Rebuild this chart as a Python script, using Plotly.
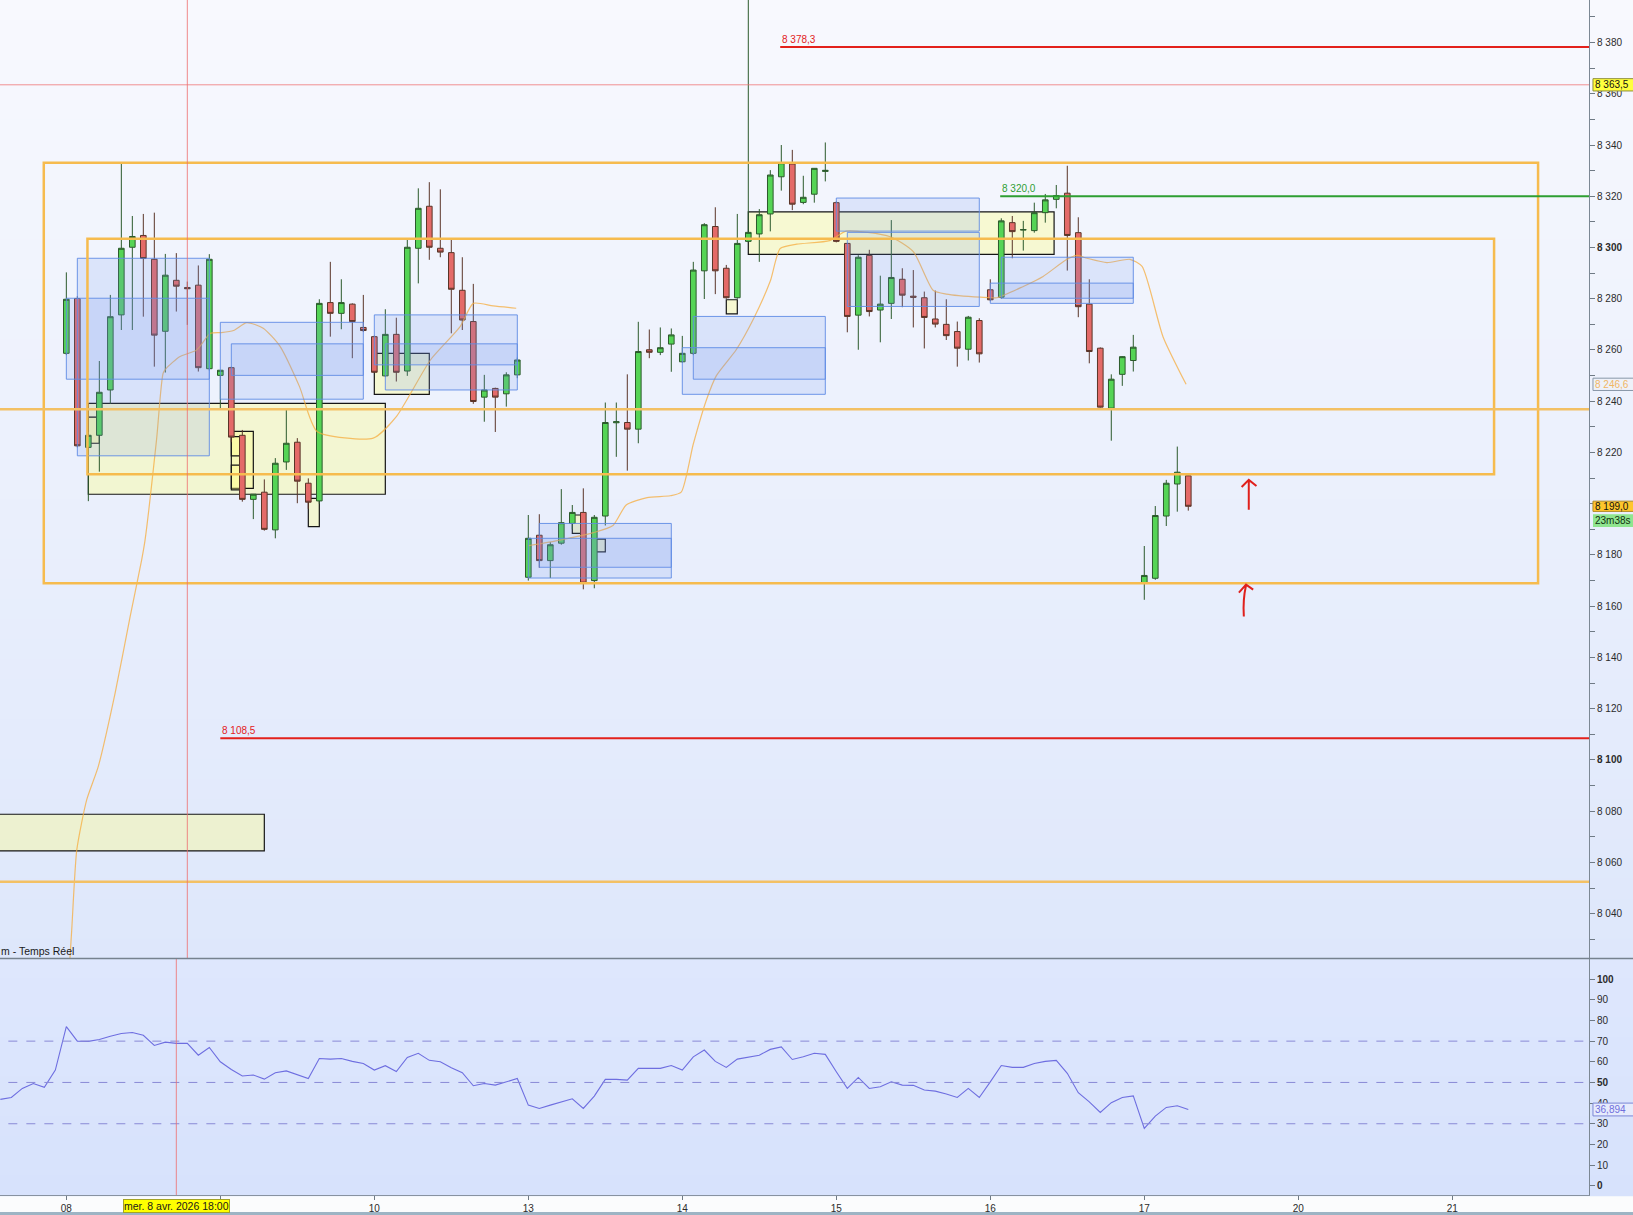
import plotly.graph_objects as go
from plotly.subplots import make_subplots

FONT = "Liberation Sans, Arial, sans-serif"

# bougies 1h : index 0 = mer. 8 avr. 08:00, 14 barres par seance (08h-21h)
bar_idx = list(range(103))
opens = [8258.7, 8280.1, 8222.0, 8226.7, 8244.4, 8273.7, 8300.1, 8304.7, 8295.4, 8267.3, 8287.2, 8284.4, 8285.3, 8252.7,
         8250.1, 8253.1, 8226.7, 8201.7, 8204.5, 8189.8, 8216.3, 8224.0, 8208.0, 8201.1, 8278.5, 8274.3, 8277.9, 8268.8,
         8265.2, 8249.9, 8266.1, 8251.8, 8299.7, 8316.1, 8299.7, 8298.0, 8283.3, 8271.1, 8241.6, 8245.0, 8242.9, 8250.3,
         8171.3, 8187.7, 8177.8, 8184.6, 8192.3, 8196.6, 8170.0, 8195.2, 8231.6, 8231.7, 8229.1, 8260.1, 8259.1, 8262.3,
         8255.4, 8258.7, 8290.9, 8308.2, 8291.9, 8280.4, 8302.4, 8305.3, 8313.1, 8327.6, 8332.6, 8317.6, 8320.8, 8329.7,
         8317.5, 8301.6, 8273.6, 8296.9, 8275.6, 8278.2, 8287.6, 8281.0, 8280.4, 8272.1, 8270.0, 8267.2, 8260.3, 8271.5,
         8283.5, 8280.6, 8309.7, 8306.8, 8306.6, 8313.6, 8318.8, 8321.2, 8305.8, 8277.9, 8260.7, 8237.3, 8250.5, 8255.9,
         8169.0, 8170.9, 8195.2, 8207.7, 8210.9]
highs = [8290.3, 8281.0, 8228.0, 8255.7, 8281.5, 8332.9, 8312.3, 8313.1, 8313.6, 8297.5, 8297.8, 8286.7, 8293.0, 8297.4,
         8252.1, 8253.5, 8228.8, 8203.7, 8209.5, 8217.8, 8237.3, 8225.6, 8209.9, 8279.8, 8294.4, 8287.6, 8278.2, 8281.5,
         8265.6, 8275.9, 8272.6, 8303.0, 8323.1, 8325.5, 8322.7, 8303.0, 8296.2, 8285.8, 8250.3, 8245.3, 8251.3, 8257.0,
         8195.6, 8195.9, 8185.0, 8205.7, 8199.5, 8206.0, 8195.6, 8239.5, 8239.5, 8250.5, 8271.0, 8268.0, 8268.8, 8268.4,
         8265.5, 8294.4, 8309.5, 8315.7, 8293.2, 8313.1, 8450.0, 8315.0, 8330.2, 8340.0, 8338.1, 8328.0, 8330.9, 8341.0,
         8318.0, 8301.8, 8297.0, 8299.1, 8289.0, 8310.7, 8291.9, 8291.2, 8282.8, 8283.2, 8279.8, 8271.1, 8273.3, 8272.4,
         8287.6, 8311.4, 8312.3, 8310.4, 8317.5, 8320.9, 8324.4, 8331.9, 8311.8, 8287.6, 8261.0, 8250.5, 8257.6, 8265.9,
         8183.5, 8199.1, 8209.3, 8222.3, 8211.0]
lows = [8258.0, 8222.0, 8201.0, 8212.5, 8239.0, 8267.8, 8267.8, 8273.0, 8253.5, 8251.2, 8275.0, 8269.8, 8251.6, 8252.0,
        8237.3, 8224.0, 8200.8, 8194.0, 8189.5, 8186.5, 8213.2, 8200.2, 8198.0, 8200.0, 8265.2, 8268.1, 8256.8, 8267.0,
        8251.0, 8249.5, 8247.7, 8249.9, 8286.0, 8295.2, 8296.2, 8266.5, 8267.8, 8239.0, 8232.0, 8228.0, 8237.9, 8249.0,
        8170.0, 8175.0, 8171.0, 8184.0, 8190.0, 8166.6, 8167.0, 8191.5, 8218.3, 8212.9, 8223.6, 8256.8, 8258.0, 8251.5,
        8255.0, 8258.0, 8279.9, 8281.8, 8280.0, 8280.0, 8302.0, 8294.4, 8306.3, 8322.2, 8314.6, 8316.9, 8317.5, 8325.8,
        8302.0, 8266.9, 8260.1, 8273.1, 8263.0, 8272.1, 8276.7, 8268.8, 8260.6, 8268.8, 8263.9, 8253.5, 8255.9, 8255.1,
        8279.0, 8280.0, 8295.8, 8298.8, 8305.8, 8309.7, 8315.3, 8291.0, 8272.8, 8254.8, 8237.5, 8224.6, 8246.0, 8251.6,
        8162.5, 8170.3, 8191.3, 8196.9, 8197.3]
closes = [8279.8, 8222.6, 8226.7, 8243.5, 8273.0, 8299.7, 8304.3, 8295.7, 8265.8, 8289.2, 8284.9, 8283.9, 8253.1, 8295.4,
          8252.1, 8226.0, 8201.7, 8203.7, 8190.0, 8215.8, 8223.6, 8208.8, 8200.6, 8278.2, 8274.3, 8278.5, 8271.1, 8267.6,
          8251.3, 8266.1, 8251.3, 8300.1, 8315.3, 8300.1, 8298.2, 8283.7, 8271.7, 8239.9, 8244.4, 8241.6, 8250.3, 8256.1,
          8186.5, 8177.8, 8184.0, 8192.6, 8196.6, 8169.0, 8194.7, 8231.7, 8232.0, 8229.1, 8259.4, 8259.1, 8260.9, 8265.9,
          8258.7, 8291.2, 8308.9, 8290.9, 8280.4, 8301.6, 8305.9, 8312.8, 8328.3, 8333.1, 8316.9, 8319.6, 8330.9, 8330.1,
          8302.4, 8273.1, 8296.2, 8275.0, 8277.9, 8288.3, 8281.4, 8280.6, 8272.7, 8270.1, 8265.6, 8260.7, 8272.8, 8258.5,
          8279.6, 8310.4, 8306.2, 8307.0, 8313.6, 8318.6, 8320.3, 8304.7, 8276.9, 8259.4, 8237.7, 8248.6, 8257.4, 8261.1,
          8172.0, 8195.4, 8208.0, 8212.3, 8199.0]

# moyenne mobile (orange), None = trou entre le 10 et le 13
ma_idx = [0.0, 0.49, 0.95, 1.85, 2.9, 4.43, 5.8, 6.85, 7.16, 8.2, 8.8, 9.1, 10.3, 11.85, 13.1, 14.1, 15.2, 16.4,
          17.9, 19.4, 21.2, 22.8, 27.9, 30.0, 33.1, 35.8, 37.0, 38.8, 40.9, 41.5,
          42.0, 44.9, 47.9, 49.7, 50.9, 52.8, 54.9, 55.9, 57.0, 58.2, 59.1, 60.9, 62.5, 64.0, 64.9, 66.4, 69.4, 70.9,
          74.9, 77.0, 78.8, 80.0, 83.1, 84.6, 87.0, 88.8, 90.9, 91.9, 92.8, 94.6, 96.7, 97.8, 99.7, 101.8]
ma_vals = [8000.0, 8033.6, 8064.9, 8084.4, 8097.4, 8126.0, 8155.9, 8178.1, 8185.9, 8224.9, 8250.9, 8252.9, 8257.4,
           8260.0, 8266.5, 8266.8, 8267.6, 8270.7, 8268.5, 8261.6, 8245.7, 8228.2, 8225.6, 8234.0, 8256.1, 8269.1,
           8278.2, 8277.2, 8276.3, None,
           8183.6, 8185.8, 8188.7, 8191.5, 8199.5, 8202.4, 8203.1, 8204.5, 8223.3, 8240.6, 8250.0, 8260.1, 8272.4,
           8286.9, 8299.6, 8301.3, 8302.7, 8306.4, 8304.2, 8298.4, 8283.3, 8281.8, 8280.6, 8280.4, 8284.8, 8288.7,
           8295.2, 8296.9, 8295.8, 8294.1, 8295.4, 8292.6, 8265.2, 8246.6]

# RSI, une valeur par bougie (index -6 a 102)
rsi_idx = list(range(-6, 103))
rsi_vals = [41.8, 42.7, 47.1, 49.5, 47.6, 56.0,
            77.0, 70.0, 69.9, 70.8, 72.4, 73.7, 74.2, 72.8, 67.9, 69.5, 68.9, 68.9, 63.2, 66.9,
            60.0, 56.3, 53.1, 53.6, 51.6, 54.7, 55.6, 53.6, 51.9, 61.6, 61.3, 61.6, 60.2, 59.2,
            56.0, 58.1, 55.3, 62.1, 64.1, 60.7, 60.0, 57.1, 54.7, 48.4, 49.5, 48.7, 50.3, 51.9,
            39.0, 37.4, 39.0, 40.6, 42.1, 37.4, 43.4, 51.5, 51.5, 51.1, 56.8, 56.8, 56.8, 58.2,
            56.0, 62.4, 65.7, 60.2, 57.3, 61.3, 62.4, 63.2, 66.0, 67.2, 61.1, 62.4, 64.1, 63.6,
            55.2, 47.1, 52.4, 47.1, 47.9, 50.3, 48.7, 48.6, 46.3, 45.8, 44.4, 42.7, 47.1, 42.7,
            50.3, 58.2, 57.3, 57.3, 59.2, 60.2, 60.7, 54.4, 45.0, 40.6, 35.5, 40.2, 42.7, 43.5,
            27.7, 33.7, 37.9, 38.7, 36.9]
rsi_levels = [70, 50, 30]

price_ticks = list(range(8040, 8381, 20))
bold_prices = [8100, 8300]
hidden_prices = [8200]  # masque par l'etiquette du dernier cours
rsi_ticks = list(range(0, 101, 10))
bold_rsi = [0, 50, 100]
day_ticks = [0, 14, 28, 42, 56, 70, 84, 98, 112, 126]
day_labels = ["08", "", "10", "13", "14", "15", "16", "17", "20", "21"]

# zones dessinees (x0, x1, bas, haut)
blue_zones = [(1, 13, 8218.7, 8295.8), (0, 13, 8248.6, 8280.2),
              (14, 27, 8240.8, 8270.8), (15, 27, 8250.1, 8262.4),
              (28, 41, 8254.2, 8273.7), (29, 41, 8244.4, 8262.4),
              (43, 55, 8175.2, 8192.3), (42, 55, 8171.0, 8186.5),
              (57, 69, 8248.6, 8273.1), (56, 69, 8242.7, 8260.9),
              (70, 83, 8306.4, 8319.3), (71, 83, 8277.0, 8305.9),
              (85, 97, 8280.2, 8296.2), (84, 97, 8278.2, 8286.1)]
yellow_zones = [(2, 29, 8203.7, 8239.2), (15, 17, 8206.0, 8228.2), (15, 16, 8218.7, 8226.2),
                (15, 16, 8205.4, 8215.1), (2, 3, 8223.6, 8233.8), (28, 33, 8242.7, 8258.7),
                (22, 23, 8191.1, 8202.1), (46, 47, 8188.4, 8195.6), (48, 49, 8181.2, 8186.2),
                (60, 61, 8274.1, 8279.6), (62, 89.8, 8297.3, 8313.9), (-12, 18, 8064.5, 8078.8)]
orange_boxes = [(-2.05, 133.8, 8169.0, 8333.1), (1.92, 129.8, 8211.5, 8303.4)]
orange_levels = [8236.9, 8052.5]
levels = [(64.9, 8378.3, "#e3211c"), (84.9, 8320.0, "#2e9e32"), (14.0, 8108.5, "#e3211c")]
cross_price = 8363.5
cross_bar_main = 11
cross_bar_rsi = 10
last_price = 8199.0
ma_last = 8246.6
rsi_last = 36.894

X_RANGE = [-6.03, 138.43]
Y_RANGE = [8022.5, 8396.6]
RSI_RANGE = [-4.5, 110]
SPLIT = 0.1979


def fr(v, d=1):
    return f"{v:,.{d}f}".replace(",", " ").replace(".", ",")


def price_label(v):
    if v in hidden_prices:
        return ""
    if v in bold_prices:
        return "<b>%s</b>" % fr(v, 0)
    return fr(v, 0)


fig = make_subplots(rows=2, cols=1, shared_xaxes=True, vertical_spacing=0,
                    row_heights=[1 - SPLIT, SPLIT])

fig.add_trace(go.Scatter(x=ma_idx, y=ma_vals, mode="lines", connectgaps=False, hoverinfo="skip",
                         line=dict(color="rgba(246,172,62,0.75)", width=1.2, shape="spline", smoothing=0.6)),
              row=1, col=1)
fig.add_trace(go.Candlestick(x=bar_idx, open=opens, high=highs, low=lows, close=closes, whiskerwidth=0,
                             increasing=dict(fillcolor="#55d455", line=dict(color="#2c5a2c", width=1)),
                             decreasing=dict(fillcolor="#e46a68", line=dict(color="#5a3528", width=1)),
                             hoverinfo="skip"), row=1, col=1)
fig.add_trace(go.Scatter(x=rsi_idx, y=rsi_vals, mode="lines", hoverinfo="skip",
                         line=dict(color="#6e6ee0", width=1.1)), row=2, col=1)

shapes = []
# fond degrade
c_top, c_bot = (248, 249, 254), (222, 231, 251)
n = 48
for k in range(n):
    t = k / n
    col = tuple(round(a + (b - a) * (k + 0.5) / n) for a, b in zip(c_top, c_bot))
    shapes.append(dict(type="rect", xref="paper", yref="paper", x0=0, x1=1.03,
                       y0=1 - (1 - SPLIT) * (k + 1) / n - 0.001, y1=1 - (1 - SPLIT) * t,
                       fillcolor="rgb(%d,%d,%d)" % col, line_width=0, layer="below"))
r_top, r_bot = (222, 231, 253), (215, 226, 252)
for k in range(12):
    col = tuple(round(a + (b - a) * (k + 0.5) / 12) for a, b in zip(r_top, r_bot))
    shapes.append(dict(type="rect", xref="paper", yref="paper", x0=0, x1=1.03,
                       y0=SPLIT - SPLIT * (k + 1) / 12 - 0.001, y1=SPLIT - SPLIT * k / 12,
                       fillcolor="rgb(%d,%d,%d)" % col, line_width=0, layer="below"))
shapes.append(dict(type="rect", xref="paper", yref="paper", x0=-0.01, x1=1.03, y0=-0.0143, y1=-0.0185,
                   fillcolor="#9db4c4", line_width=0, layer="below"))

for x0, x1, y0, y1 in yellow_zones:
    shapes.append(dict(type="rect", xref="x", yref="y", x0=x0, x1=x1, y0=y0, y1=y1, layer="below",
                       fillcolor="rgba(255,255,140,0.38)", line=dict(color="#151515", width=1.2)))
for x0, x1, y0, y1 in blue_zones:
    shapes.append(dict(type="rect", xref="x", yref="y", x0=x0, x1=x1, y0=y0, y1=y1, layer="above",
                       fillcolor="rgba(110,150,235,0.17)", line=dict(color="rgba(95,140,228,0.9)", width=1)))
for x0, x1, y0, y1 in orange_boxes:
    shapes.append(dict(type="rect", xref="x", yref="y", x0=x0, x1=x1, y0=y0, y1=y1, layer="above",
                       line=dict(color="#f6bb4e", width=2.5)))
for lv in orange_levels:
    shapes.append(dict(type="line", xref="x", yref="y", x0=-20, x1=200, y0=lv, y1=lv, layer="above",
                       line=dict(color="#f3c064", width=2.5)))
for x0, lv, c in levels:
    shapes.append(dict(type="line", xref="x", yref="y", x0=x0, x1=200, y0=lv, y1=lv, layer="above",
                       line=dict(color=c, width=2)))
for lv in rsi_levels:
    shapes.append(dict(type="line", xref="x2", yref="y2", x0=-20, x1=200, y0=lv, y1=lv, layer="above",
                       line=dict(color="#8a8ad6", width=1, dash="dash")))

# reticule
shapes.append(dict(type="line", xref="x", yref="y", x0=-20, x1=200, y0=cross_price, y1=cross_price,
                   layer="above", line=dict(color="rgba(238,110,110,0.75)", width=1)))
shapes.append(dict(type="line", xref="x", yref="y", x0=cross_bar_main, x1=cross_bar_main, y0=7900, y1=8500,
                   layer="above", line=dict(color="rgba(238,110,110,0.8)", width=1)))
shapes.append(dict(type="line", xref="x2", yref="y2", x0=cross_bar_rsi, x1=cross_bar_rsi, y0=-20, y1=130,
                   layer="above", line=dict(color="rgba(238,110,110,0.8)", width=1)))

# fleches dessinees a la main
arrows = ["M 107.5 8197.6 L 107.5 8209.1 M 106.85 8206.5 L 107.5 8209.3 L 108.2 8206.9",
          "M 107.05 8156.0 Q 106.95 8162.5 107.25 8168.2 M 106.6 8165.3 L 107.25 8168.4 L 107.9 8166.5"]
for p in arrows:
    shapes.append(dict(type="path", xref="x", yref="y", path=p, layer="above",
                       line=dict(color="#e0201c", width=2)))

# separateur des panneaux
shapes.append(dict(type="line", xref="paper", yref="paper", x0=0, x1=1.03, y0=SPLIT, y1=SPLIT,
                   layer="above", line=dict(color="#76828e", width=1.5)))

annotations = []


def axis_tag(y, yref, half, text, fill, border, color):
    shapes.append(dict(type="rect", xref="paper", yref=yref, x0=1.0025, x1=1.035, y0=y - half, y1=y + half,
                       fillcolor=fill, line=dict(color=border, width=1 if border else 0), layer="above"))
    annotations.append(dict(xref="paper", yref=yref, x=1.0, xshift=5, y=y, xanchor="left", yanchor="middle",
                            text=text, showarrow=False, borderpad=0, font=dict(size=10, color=color, family=FONT)))


axis_tag(cross_price, "y", 2.4, fr(cross_price), "#ffff3e", "#8f8f3a", "#111111")
axis_tag(ma_last, "y", 2.4, fr(ma_last), "#eef1f9", "#8897a8", "#f0b665")
axis_tag(last_price, "y", 2.0, fr(last_price), "#ffc62c", "#b08a2a", "#111111")
axis_tag(last_price - 5.6, "y", 2.5, "23m38s", "#8fe58f", None, "#103010")
axis_tag(rsi_last, "y2", 3.1, fr(rsi_last, 3), "#e6ebfc", "#7b86d6", "#6f6fdc")

for x0, lv, c in levels:
    annotations.append(dict(xref="x", yref="y", x=x0 + 0.1, y=lv, xanchor="left", yanchor="bottom", yshift=1,
                            text=fr(lv), showarrow=False, borderpad=0, font=dict(size=10, color=c, family=FONT)))
annotations.append(dict(xref="paper", yref="paper", x=0, y=SPLIT, xanchor="left", yanchor="bottom", yshift=1,
                        text="m - Temps Réel", showarrow=False, borderpad=0,
                        font=dict(size=10.5, color="#1a1a1a", family=FONT)))
annotations.append(dict(xref="x2", yref="paper", x=cross_bar_rsi, y=0, xanchor="center", yanchor="top", yshift=-4,
                        text="mer. 8 avr. 2026 18:00", showarrow=False, borderpad=0, bgcolor="#ffff00",
                        bordercolor="#a3a326", borderwidth=1, font=dict(size=10.5, color="#1a1a1a", family=FONT)))

tick_font = dict(size=10, color="#2b2b2b", family=FONT)
fig.update_layout(
    width=1633, height=1215, template="none",
    margin=dict(l=0, r=44, t=0, b=20, pad=0),
    paper_bgcolor="#fbfcfd", plot_bgcolor="rgba(0,0,0,0)",
    showlegend=False, boxgap=0.27, separators=", ",
    font=dict(family=FONT, size=10, color="#2b2b2b"),
    shapes=shapes, annotations=annotations,
)
fig.update_xaxes(range=X_RANGE, showgrid=False, zeroline=False, rangeslider_visible=False, automargin=False)
fig.update_xaxes(showticklabels=False, ticks="", showline=False, row=1, col=1)
fig.update_xaxes(tickmode="array", tickvals=day_ticks, ticktext=day_labels, ticks="outside", ticklen=4,
                 tickcolor="#6f7a85", showline=True, linecolor="#8792a0", linewidth=1, tickfont=tick_font,
                 row=2, col=1)
fig.update_yaxes(side="right", range=Y_RANGE, tickmode="array", tickvals=price_ticks,
                 ticktext=[price_label(v) for v in price_ticks],
                 ticks="outside", ticklen=5, tickcolor="#6f7a85", showline=True, linecolor="#7c8894",
                 showgrid=False, zeroline=False, tickfont=tick_font, automargin=False,
                 minor=dict(tickmode="array", tickvals=list(range(8030, 8400, 20)), ticks="outside",
                            ticklen=5, tickcolor="#6f7a85"),
                 row=1, col=1)
fig.update_yaxes(side="right", range=RSI_RANGE, tickmode="array", tickvals=rsi_ticks,
                 ticktext=[("<b>%d</b>" % v) if v in bold_rsi else str(v) for v in rsi_ticks],
                 ticks="outside", ticklen=5, tickcolor="#6f7a85", showline=True, linecolor="#7c8894",
                 showgrid=False, zeroline=False, tickfont=tick_font, automargin=False,
                 row=2, col=1)

fig.write_html("out.html", config={"displayModeBar": False},
               post_script="document.body.style.margin='0';document.body.style.overflow='hidden';")
